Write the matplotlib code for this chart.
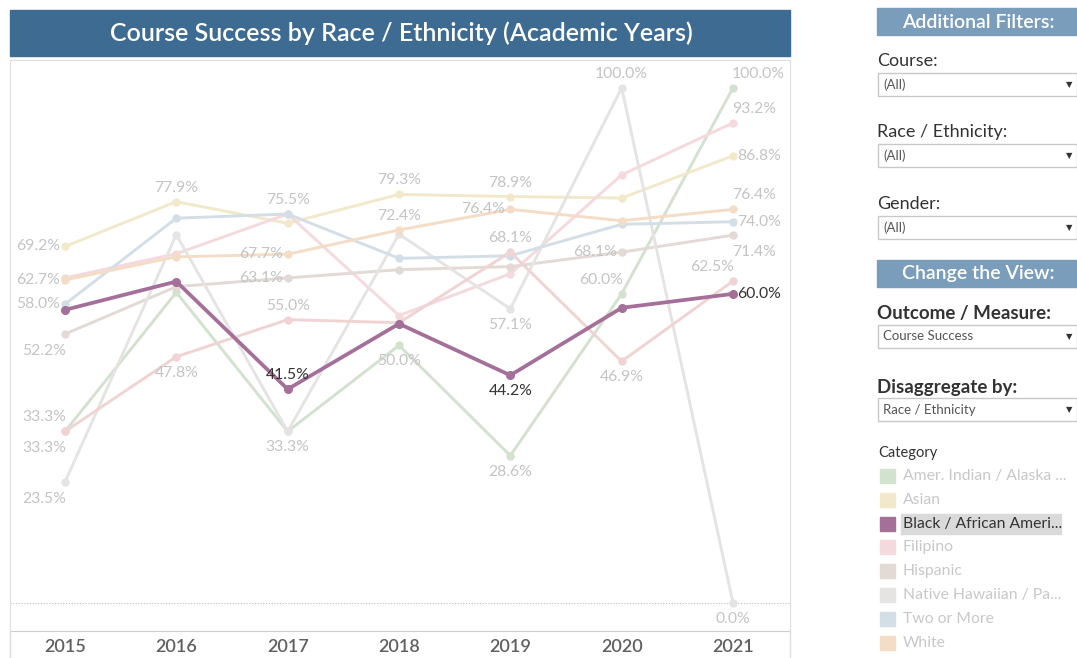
import matplotlib
matplotlib.use("Agg")
import matplotlib.pyplot as plt
from matplotlib.patches import Rectangle

W, H = 1077, 658
FONT = ["Lato", "DejaVu Sans"]
plt.rcParams["font.family"] = FONT

years = [2015, 2016, 2017, 2018, 2019, 2020, 2021]
amer_indian = [33.3, 60.3, 33.3, 50.0, 28.6, 60.0, 100.0]
asian = [69.2, 77.9, 73.7, 79.3, 78.9, 78.6, 86.8]
black = [56.9, 62.4, 41.5, 54.2, 44.2, 57.3, 60.0]
filipino = [63.1, 67.8, 75.5, 55.8, 63.9, 83.1, 93.2]
hispanic = [52.2, 61.4, 63.1, 64.7, 65.3, 68.1, 71.4]
native_hawaiian = [23.5, 71.5, 33.3, 71.6, 57.1, 100.0, 0.0]
two_or_more = [58.0, 74.7, 75.5, 66.9, 67.4, 73.5, 74.0]
white = [62.7, 67.2, 67.7, 72.4, 76.4, 74.2, 76.4]
unknown = [33.3, 47.8, 55.0, 54.4, 68.1, 46.9, 62.5]

series = {
    "Amer. Indian / Alaska ...": (amer_indian, "#d2e2cf"),
    "Asian": (asian, "#f2e9cb"),
    "Black / African Ameri...": (black, "#a46f98"),
    "Filipino": (filipino, "#f5dadd"),
    "Hispanic": (hispanic, "#e3d9d5"),
    "Native Hawaiian / Pa...": (native_hawaiian, "#e6e4e2"),
    "Two or More": (two_or_more, "#d4dee7"),
    "White": (white, "#f4ddc6"),
    "Unknown": (unknown, "#f0d4d3"),
}
legend_names = list(series)[:8]
focus = "Black / African Ameri..."

# (series, year index, placement)
labels = [
    ("Amer. Indian / Alaska ...", 0, "al"), ("Amer. Indian / Alaska ...", 3, "b"),
    ("Amer. Indian / Alaska ...", 4, "b"), ("Amer. Indian / Alaska ...", 5, "al"),
    ("Amer. Indian / Alaska ...", 6, "ar"),
    ("Asian", 0, "l"), ("Asian", 1, "a"), ("Asian", 3, "a"), ("Asian", 4, "a"), ("Asian", 6, "r"),
    ("Black / African Ameri...", 2, "a"), ("Black / African Ameri...", 4, "b"),
    ("Black / African Ameri...", 6, "r"),
    ("Filipino", 2, "a"), ("Filipino", 6, "ar"),
    ("Unknown", 0, "bl"), ("Unknown", 1, "b"), ("Unknown", 2, "a"), ("Unknown", 4, "a"),
    ("Unknown", 5, "b"), ("Unknown", 6, "al"),
    ("Hispanic", 0, "bl"), ("Hispanic", 2, "l"), ("Hispanic", 5, "l"), ("Hispanic", 6, "br"),
    ("Native Hawaiian / Pa...", 0, "bl"), ("Native Hawaiian / Pa...", 2, "b"),
    ("Native Hawaiian / Pa...", 4, "b"), ("Native Hawaiian / Pa...", 5, "a"),
    ("Native Hawaiian / Pa...", 6, "b"),
    ("Two or More", 0, "l"), ("Two or More", 6, "r"),
    ("White", 0, "l"), ("White", 2, "l"), ("White", 3, "a"), ("White", 4, "l"), ("White", 6, "ar"),
]
place = {
    "a": ((0, 14), "center"), "b": ((0, -16), "center"),
    "l": ((-5, 0), "right"), "r": ((4, 0), "left"),
    "al": ((1, 14), "right"), "ar": ((-1, 14), "left"),
    "bl": ((1, -17), "right"), "br": ((-1, -17), "left"),
}


def fx(x):
    return x / W


def fy(y):
    return 1 - y / H


fig = plt.figure(figsize=(W / 100, H / 100), dpi=100)

# --- title bar ---
fig.patches.append(Rectangle((fx(10), fy(56)), fx(780), 46 / H, transform=fig.transFigure,
                             color="#3e6b91", zorder=0))
fig.text(fx(401), fy(33), "Course Success by Race / Ethnicity (Academic Years)",
         color="white", fontsize=18, fontweight="semibold", ha="center", va="center")

# --- main chart ---
ax = fig.add_axes([fx(10), fy(631), fx(780), 571 / H])
for name, (vals, col) in series.items():
    if name == focus:
        continue
    ax.plot(years, vals, color=col, lw=2.1, marker="o", ms=5, zorder=2)
vals, col = series[focus]
ax.plot(years, vals, color=col, lw=2.7, marker="o", ms=5.5, zorder=4)

for name, i, p in labels:
    vals = series[name][0]
    off, ha = place[p]
    c = "#333333" if name == focus else "#c4c4c4"
    ax.annotate(f"{vals[i]:.1f}%", xy=(years[i], vals[i]), xytext=off,
                textcoords="offset pixels", ha=ha, va="center", fontsize=11.3,
                color=c, zorder=5)

ax.axhline(0, color="#bdbdbd", lw=0.8, ls=(0, (1, 1.5)), zorder=1)
ax.set_xlim(2014.506, 2021.512)
ax.set_ylim(-5.44, 105.4)
ax.set_yticks([])
ax.set_xticks(years)
ax.set_xticklabels([str(y) for y in years], fontsize=13, color="#606060",
                   fontweight="semibold")
ax.tick_params(axis="x", length=0, pad=6)
for s in ["left", "right", "top"]:
    ax.spines[s].set_color("#dedede")
ax.spines["bottom"].set_color("#cccccc")
for x in (10, 790):
    fig.add_artist(plt.Line2D([fx(x), fx(x)], [fy(631), 0], color="#dedede", lw=1))

# --- right panel ---
def header(y0, text):
    fig.patches.append(Rectangle((fx(877), fy(y0 + 27)), fx(200), 27 / H,
                                 transform=fig.transFigure, color="#7b9dbc"))
    fig.text(fx(978), fy(y0 + 14), text, color="white", fontsize=14,
             fontweight="semibold", ha="center", va="center")


def dropdown(y0, text, fs=9.5):
    fig.patches.append(Rectangle((fx(877.5), fy(y0 + 23)), fx(199), 23 / H,
                                 transform=fig.transFigure, facecolor="white",
                                 edgecolor="#c8c8c8", lw=1))
    fig.text(fx(883), fy(y0 + 11.5), text, color="#555555", fontsize=fs, va="center")
    fig.text(fx(1069), fy(y0 + 11.5), "▼", color="#333333", fontsize=6,
             ha="center", va="center", family="DejaVu Sans")


header(8, "Additional Filters:")
fig.text(fx(877), fy(61), "Course:", fontsize=13, color="#333333", va="center")
dropdown(73, "(All)")
fig.text(fx(877), fy(132), "Race / Ethnicity:", fontsize=13, color="#333333", va="center")
dropdown(144, "(All)")
fig.text(fx(877), fy(204), "Gender:", fontsize=13, color="#333333", va="center")
dropdown(216, "(All)")

header(260, "Change the View:")
fig.text(fx(877), fy(313), "Outcome / Measure:", fontsize=13.5, color="#333333",
         fontweight="bold", va="center")
dropdown(325, "Course Success")
fig.text(fx(877), fy(387), "Disaggregate by:", fontsize=13.5, color="#333333",
         fontweight="bold", va="center")
dropdown(398, "Race / Ethnicity")

fig.text(fx(878), fy(453), "Category", fontsize=10.5, color="#333333", va="center")
for k, name in enumerate(legend_names):
    yc = 476 + k * 23.8
    col = series[name][1]
    fig.patches.append(Rectangle((fx(880), fy(yc + 7)), 15 / W, 14 / H,
                                 transform=fig.transFigure, color=col))
    if name == focus:
        fig.patches.append(Rectangle((fx(901), fy(yc + 10)), 160 / W, 20 / H,
                                     transform=fig.transFigure, color="#dadada"))
    fig.text(fx(903), fy(yc), name, fontsize=11.3,
             color="#333333" if name == focus else "#c8c8c8", va="center")

fig.savefig("out.png", dpi=100)
